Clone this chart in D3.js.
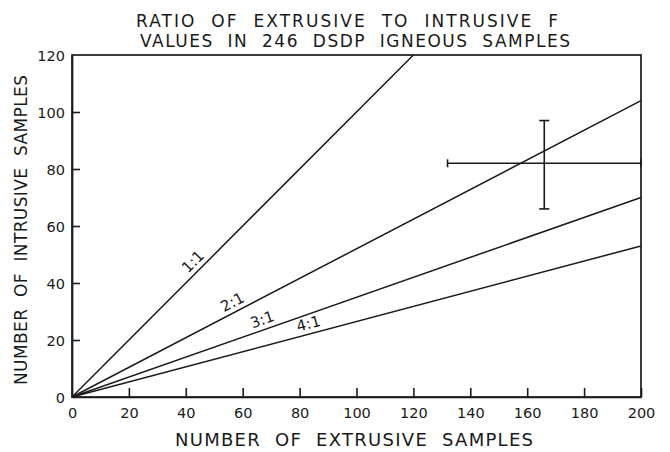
<!DOCTYPE html>
<html>
<head>
<meta charset="utf-8">
<script src="https://cdnjs.cloudflare.com/ajax/libs/d3/7.8.5/d3.min.js"></script>
<style>
  body { margin: 0; background: #fff; }
  svg { display: block; }
  text { font-family: "DejaVu Sans", sans-serif; fill: #1a1a1a; white-space: pre; }
</style>
</head>
<body>
<div class="wrapper"></div>
<script>
// ratio lines: name, end point (x, y), label position along x
var ratioNames = ["1:1", "2:1", "3:1", "4:1"];
var ratioEndX = [120, 200, 200, 200];
var ratioEndY = [120, 104, 70, 53];
var ratioLabelX = [45, 58, 68, 84];

// the cross (error bars) on the right
var crossX = [132, 166, 200];
var crossY = [66, 82, 97];

var xTicks = [0, 20, 40, 60, 80, 100, 120, 140, 160, 180, 200];
var yTicks = [0, 20, 40, 60, 80, 100, 120];

var titleLines = ["RATIO  OF  EXTRUSIVE  TO  INTRUSIVE  F",
                  "VALUES  IN  246  DSDP  IGNEOUS  SAMPLES"];
var xTitle = "NUMBER  OF  EXTRUSIVE  SAMPLES";
var yTitle = "NUMBER  OF  INTRUSIVE  SAMPLES";

var W = 670, H = 452;
var mLeft = 72, mRight = 641, mTop = 55, mBottom = 397;
var ink = "#1a1a1a";

var svg = d3.select(".wrapper").append("svg")
    .attr("width", W)
    .attr("height", H);

var x = d3.scaleLinear().domain([0, 200]).range([mLeft, mRight]);
var y = d3.scaleLinear().domain([0, 120]).range([mBottom, mTop]);

// frame
svg.append("rect")
    .attr("x", mLeft).attr("y", mTop)
    .attr("width", mRight - mLeft).attr("height", mBottom - mTop)
    .attr("fill", "none").attr("stroke", ink).attr("stroke-width", 1.7);

var xAxis = svg.append("g")
    .attr("transform", "translate(0," + mBottom + ")")
    .call(d3.axisBottom(x).tickValues(xTicks).tickSizeInner(-9).tickSizeOuter(0).tickPadding(11));
var yAxis = svg.append("g")
    .attr("transform", "translate(" + mLeft + ",0)")
    .call(d3.axisLeft(y).tickValues(yTicks).tickSizeInner(-8).tickSizeOuter(0).tickPadding(7));

[xAxis, yAxis].forEach(function(a) {
    a.select(".domain").attr("stroke", ink).attr("stroke-width", 1.7);
    a.selectAll(".tick line").attr("stroke", ink).attr("stroke-width", 1.6);
    a.selectAll(".tick text")
        .style("font-family", "DejaVu Sans")
        .style("font-size", "14.5px")
        .attr("fill", ink);
});
xAxis.selectAll(".tick").filter(function(d) { return d === 0; }).select("line").remove();
yAxis.selectAll(".tick").filter(function(d) { return d === 0 || d === 120; }).select("line").remove();
yAxis.selectAll(".tick text").attr("dy", "0.36em");

// ratio lines
svg.append("g").selectAll("line")
    .data(ratioNames)
    .enter().append("line")
    .attr("x1", x(0)).attr("y1", y(0))
    .attr("x2", function(d, i) { return x(ratioEndX[i]); })
    .attr("y2", function(d, i) { return y(ratioEndY[i]); })
    .attr("stroke", ink).attr("stroke-width", 1.5);

// labels along each line
svg.append("g").selectAll("text")
    .data(ratioNames)
    .enter().append("text")
    .attr("text-anchor", "middle")
    .style("font-size", "15px")
    .attr("transform", function(d, i) {
        var lx = ratioLabelX[i];
        var ly = lx * ratioEndY[i] / ratioEndX[i];
        var px = x(lx), py = y(ly);
        var ang = Math.atan2(y(ratioEndY[i]) - y(0), x(ratioEndX[i]) - x(0));
        var off = 5;
        px += Math.sin(ang) * off;
        py -= Math.cos(ang) * off;
        return "translate(" + px + "," + py + ")rotate(" + (ang * 180 / Math.PI) + ")";
    })
    .text(function(d) { return d; });

// cross
var cross = svg.append("g").attr("stroke", ink).attr("stroke-width", 1.6);
cross.append("line")
    .attr("x1", x(crossX[0])).attr("x2", x(crossX[2]))
    .attr("y1", y(crossY[1])).attr("y2", y(crossY[1]));
cross.append("line")
    .attr("x1", x(crossX[1])).attr("x2", x(crossX[1]))
    .attr("y1", y(crossY[0])).attr("y2", y(crossY[2]));
cross.selectAll("line.capx")
    .data([crossX[0], crossX[2]])
    .enter().append("line")
    .attr("class", "capx")
    .attr("x1", function(d) { return x(d); }).attr("x2", function(d) { return x(d); })
    .attr("y1", y(crossY[1]) - 4).attr("y2", y(crossY[1]) + 4);
cross.selectAll("line.capy")
    .data([crossY[0], crossY[2]])
    .enter().append("line")
    .attr("class", "capy")
    .attr("y1", function(d) { return y(d); }).attr("y2", function(d) { return y(d); })
    .attr("x1", x(crossX[1]) - 5).attr("x2", x(crossX[1]) + 5);

// titles (widths fitted to the lettering in the picture)
var titleX = [136, 140], titleLen = [422, 430], titleBase = [27, 47];
svg.append("g").selectAll("text")
    .data(titleLines)
    .enter().append("text")
    .attr("x", function(d, i) { return titleX[i]; })
    .attr("y", function(d, i) { return titleBase[i]; })
    .attr("textLength", function(d, i) { return titleLen[i]; })
    .attr("lengthAdjust", "spacing")
    .style("font-size", "17px")
    .text(function(d) { return d; });

svg.append("text")
    .attr("x", 175).attr("y", 446)
    .attr("textLength", 358)
    .attr("lengthAdjust", "spacing")
    .style("font-size", "18px")
    .text(xTitle);

svg.append("text")
    .attr("transform", "translate(27,385)rotate(-90)")
    .attr("textLength", 310)
    .attr("lengthAdjust", "spacing")
    .style("font-size", "17px")
    .text(yTitle);
</script>
</body>
</html>
